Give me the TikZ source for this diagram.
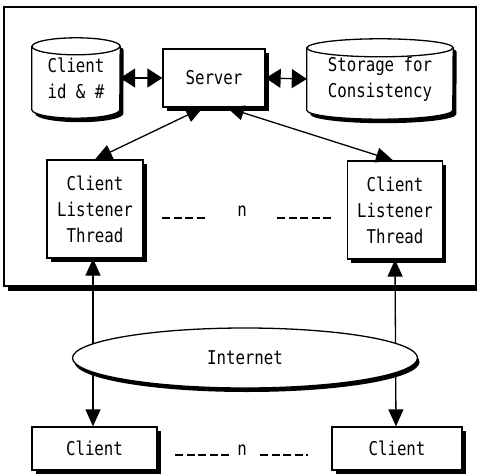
\documentclass[tikz,border=0pt]{standalone}
\usepackage{fontspec}
\setmonofont{DejaVu Sans Mono}[FakeStretch=0.83]
\usetikzlibrary{shapes.geometric, shadows, arrows.meta, backgrounds}

\tikzset{
  shade box/.style={drop shadow={shadow xshift=3.5pt, shadow yshift=-4pt, fill=black, opacity=1}},
  label font/.style={font=\ttfamily\fontsize{19}{26}\selectfont},
  box/.style={draw, line width=1.3pt, fill=white, inner sep=0pt, align=center, label font, shade box},
  store/.style={inner sep=0pt, align=center, label font},
  link/.style={line width=1.3pt, {Triangle[length=17pt,width=15pt]}-{Triangle[length=17pt,width=15pt]}},
  fat link/.style={line width=1.3pt, {Triangle[length=15pt,width=19pt]}-{Triangle[length=15pt,width=19pt]}},
  gap/.style={line width=1.4pt, dash pattern=on 8pt off 3.5pt},
}

% cylinder round a node: #1 node, #2 x radius, #3 y radius
\newcommand{\drum}[3]{%
  \fill[transform canvas={xshift=3.5pt, yshift=-4pt}] ([yshift=-#3]#1.north west) -- ([yshift=#3]#1.south west)
    arc[start angle=180, end angle=360, x radius=#2, y radius=#3] -- ([yshift=-#3]#1.north east)
    arc[start angle=0, end angle=180, x radius=#2, y radius=#3] -- cycle;
  \filldraw[fill=white, line width=1.3pt] ([yshift=-#3]#1.north west) -- ([yshift=#3]#1.south west)
    arc[start angle=180, end angle=360, x radius=#2, y radius=#3] -- ([yshift=-#3]#1.north east)
    arc[start angle=0, end angle=180, x radius=#2, y radius=#3] -- cycle;
  \draw[line width=1.3pt] ([yshift=-#3]#1.north west) arc[start angle=180, end angle=360, x radius=#2, y radius=#3];
}

\begin{document}
\begin{tikzpicture}[x=1pt, y=-1pt]
\useasboundingbox (0,0) rectangle (477,474);

% Draw the server side frame
\draw[line width=1.3pt] (4,7) rectangle (476,286);
\fill (8,286) rectangle (481,291);

% Draw the server and its storage
\node[store, minimum width=88pt, minimum height=80pt] (ids) at (76,78) {Client\\id \& \#};
\node[box, minimum width=102pt, minimum height=58pt] (server) at (214,78) {Server};
\node[store, minimum width=146pt, minimum height=80pt] (storage) at (380,79) {Storage for\\Consistency};
\begin{scope}[on background layer]
\drum{ids}{44pt}{8.5pt}
\drum{storage}{73pt}{9pt}
\end{scope}

% Draw the listener threads
\node[box, minimum width=96pt, minimum height=98pt] (threadA) at (95,209) {Client\\Listener\\Thread};
\node[box, minimum width=95pt, minimum height=98pt] (threadB) at (395,210) {Client\\Listener\\Thread};
\node[label font] (threadN) at (242,211) {n};
\draw[gap] ([xshift=-80pt,yshift=-7pt]threadN.center) -- ([xshift=-37pt,yshift=-7pt]threadN.center);
\draw[gap] ([xshift=35pt,yshift=-7pt]threadN.center) -- ([xshift=90pt,yshift=-7pt]threadN.center);

% Draw the clients
\node[box, minimum width=125pt, minimum height=43pt] (clientA) at (94.5,448.5) {Client};
\node[box, minimum width=130pt, minimum height=43pt] (clientB) at (397,448.5) {Client};
\node[label font] (clientN) at (242,450) {n};
\draw[gap] ([xshift=-67pt,yshift=-5pt]clientN.center) -- ([xshift=-11pt,yshift=-5pt]clientN.center);
\draw[gap] ([xshift=18pt,yshift=-5pt]clientN.center) -- ([xshift=66pt,yshift=-5pt]clientN.center);

% Draw the links
\draw[fat link] (ids.east) -- (server.west);
\draw[fat link] (server.east) -- (storage.west);
\draw[link] ([xshift=-11pt]server.south) -- (threadA.north);
\draw[link] ([xshift=13pt]server.south) -- ([xshift=-2pt]threadB.north);
\draw[link] ([xshift=-2pt]threadA.south) -- ([xshift=-1.5pt]clientA.north);
\draw[link] (threadB.south) -- ([xshift=-1pt]clientB.north);

% Draw the internet on top
\node[draw, line width=1.3pt, fill=white, ellipse, minimum width=345pt, minimum height=60pt, label font,
  drop shadow={shadow xshift=2pt, shadow yshift=-4pt, fill=black, opacity=1}] (internet) at (245,358) {Internet};
\end{tikzpicture}
\end{document}
